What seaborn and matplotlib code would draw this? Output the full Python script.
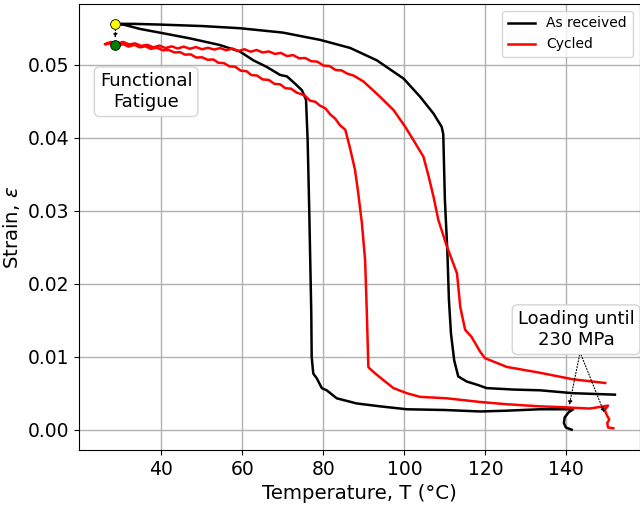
import numpy as np
import pandas as pd
import matplotlib
matplotlib.use("Agg")
import matplotlib.pyplot as plt
import seaborn as sns

# "As received": loading curl at ~141 C, cooling (lower branch -> rise), then heating (upper branch)
ar_T = [141.3, 139.9, 139.4, 139.6, 140.6, 141.7,
        133.5, 125.0, 118.7, 110.0, 100.6, 94.0, 88.2, 83.3, 80.8, 79.6, 78.4, 77.5, 77.4,
        77.1, 77.0, 76.5, 76.1, 75.7, 74.7, 73.0, 71.0, 69.3, 66.0, 62.7, 59.4, 54.4, 52.8,
        47.1, 40.5, 34.7, 30.6, 28.6,
        33.0, 39.6, 50.0, 59.4, 70.0, 79.2, 86.6, 93.2, 99.8, 103.9, 107.2, 109.2,
        109.6, 110.0, 110.6, 111.0, 111.5, 112.3, 113.3, 115.4, 118.3, 120.3, 127.0, 133.5,
        141.7, 147.0, 152.0]
ar_eps = [0.0000, 0.0003, 0.0009, 0.0017, 0.0024, 0.0028,
          0.0028, 0.0026, 0.0025, 0.0027, 0.0028, 0.0032, 0.0036, 0.0043, 0.0054, 0.0057,
          0.0070, 0.0077, 0.0082,
          0.0100, 0.0160, 0.0300, 0.0397, 0.0452, 0.0465, 0.0474, 0.0484, 0.0486, 0.0497,
          0.0506, 0.0518, 0.0527, 0.0529, 0.0536, 0.0543, 0.0549, 0.0555, 0.0556,
          0.0556, 0.0555, 0.0553, 0.0550, 0.0544, 0.0534, 0.0523, 0.0506, 0.0481, 0.0456,
          0.0433, 0.0415,
          0.0405, 0.0315, 0.0246, 0.0178, 0.0132, 0.0095, 0.0073, 0.0066, 0.0061, 0.0057,
          0.0055, 0.0054, 0.0050, 0.0049, 0.0048]

# "Cycled": loading curl at ~150 C, cooling, then heating (read with its small ripples)
cy_T = [151.6, 150.3, 150.1, 150.6, 150.0, 149.5, 150.3,
        145.8, 138.4, 133.5, 125.0, 118.7, 110.5, 103.9, 100.6, 97.3, 94.8, 92.8, 91.4,
        91.1, 90.7, 90.3, 89.5, 88.6, 87.8, 86.6, 85.4,
        84.1, 82.9, 81.7, 80.5, 79.2, 78.0, 76.7, 75.3, 73.4, 72.0, 70.6, 69.3, 67.9,
        66.5, 65.0, 63.6, 62.2, 61.0, 59.6, 58.2, 56.8, 55.4, 54.0, 52.8, 51.4, 50.0,
        48.6, 47.2, 45.8, 44.6, 43.2, 41.8, 40.4, 38.8, 37.4, 36.0, 34.7, 33.3, 31.9,
        30.5, 29.0, 27.5, 26.0,
        27.5, 29.0, 30.5, 32.0, 33.5, 35.0, 36.5, 38.0, 39.5, 41.0, 42.5, 44.0, 45.5,
        47.0, 48.5, 50.0, 51.5, 53.0, 54.5, 56.0, 57.5, 59.0, 60.5, 62.0, 63.5, 65.0,
        66.5, 68.0, 69.5, 71.0, 72.5, 74.0, 75.5, 77.0, 78.5, 80.0, 81.5, 83.0, 84.5,
        85.8, 87.5, 89.9,
        94.0, 97.3, 100.2, 102.2, 104.7, 105.9, 107.2, 108.4, 110.5, 113.0, 113.8, 115.0,
        116.6, 118.7, 119.9, 125.3, 133.5, 141.7, 149.6]
cy_eps = [0.0002, 0.0003, 0.0009, 0.0014, 0.0020, 0.0027, 0.0033,
          0.0029, 0.0031, 0.0032, 0.0035, 0.0038, 0.0043, 0.0045, 0.0050, 0.0057, 0.0068,
          0.0077, 0.0084,
          0.0086, 0.0164, 0.0232, 0.0283, 0.0324, 0.0356, 0.0385, 0.0411,
          0.04170, 0.04262, 0.04318, 0.04402, 0.04438, 0.04492, 0.04508, 0.04582, 0.04618,
          0.04672, 0.04678, 0.04732, 0.04738, 0.04792, 0.04798, 0.04852, 0.04858, 0.04912,
          0.04918, 0.04972, 0.04978, 0.05022, 0.05028, 0.05072, 0.05068, 0.05102, 0.05098,
          0.05142, 0.05138, 0.05172, 0.05168, 0.05202, 0.05198, 0.05232, 0.05218, 0.05252,
          0.05238, 0.05272, 0.05248, 0.05282, 0.05258, 0.05292, 0.05280,
          0.05312, 0.05288, 0.05312, 0.05278, 0.05292, 0.05258, 0.05272, 0.05238, 0.05262,
          0.05228, 0.05252, 0.05222, 0.05248, 0.05218, 0.05242, 0.05212, 0.05232, 0.05208,
          0.05228, 0.05198, 0.05222, 0.05188, 0.05212, 0.05178, 0.05202, 0.05168, 0.05182,
          0.05148, 0.05162, 0.05118, 0.05132, 0.05088, 0.05092, 0.05048, 0.05042, 0.04988,
          0.04982, 0.04928, 0.04922, 0.04880, 0.04850, 0.04770,
          0.0456, 0.0438, 0.0415, 0.0397, 0.0374, 0.0349, 0.0319, 0.0287, 0.0251, 0.0214,
          0.0168, 0.0137, 0.0127, 0.0107, 0.0098, 0.0086, 0.0078, 0.0069, 0.0064]

series_names = ["As received", "Cycled"]
series_colors = ["black", "red"]

fatigue_T = 28.6
fatigue_start = 0.0556
fatigue_end = 0.0527
loading_targets_T = [140.6, 149.6]
loading_targets_eps = [0.0030, 0.0020]

df = pd.concat([
    pd.DataFrame({"T": ar_T, "eps": ar_eps, "Sample": series_names[0]}),
    pd.DataFrame({"T": cy_T, "eps": cy_eps, "Sample": series_names[1]}),
], ignore_index=True)

fig = plt.figure(figsize=(6.4, 5.05), dpi=100)
ax = fig.add_axes([0.1239, 0.1089, 0.8755, 0.8832])

sns.lineplot(data=df, x="T", y="eps", hue="Sample", palette=series_colors,
             hue_order=series_names, sort=False, estimator=None, lw=1.8, ax=ax)

ax.set_xlim(19.7, 158.1)
ax.set_ylim(-0.00278, 0.05832)
ax.grid(True, color="#b0b0b0", lw=1.0)
ax.set_axisbelow(True)
ax.set_xticks([40, 60, 80, 100, 120, 140])
ax.tick_params(labelsize=13.5)
ax.set_xlabel("Temperature, T (°C)", fontsize=14.2)
ax.set_ylabel("Strain, $\\epsilon$", fontsize=14.2)

# Functional fatigue annotation
ax.annotate("", xy=(fatigue_T, fatigue_end + 0.0006), xytext=(fatigue_T, fatigue_start),
            arrowprops=dict(arrowstyle="-|>", ls=":", lw=0.8, color="black", mutation_scale=6))
ax.plot([fatigue_T], [fatigue_start], "o", mfc="yellow", mec="black", ms=7, mew=0.6, zorder=5)
ax.plot([fatigue_T], [fatigue_end], "o", mfc="green", mec="black", ms=7, mew=0.6, zorder=5)
ax.text(36.2, 0.0463, "Functional\nFatigue", ha="center", va="center", fontsize=13,
        bbox=dict(boxstyle="round", fc="white", ec="#d0d0d0", alpha=0.9))

# Loading annotation
for tx, ty in zip(loading_targets_T, loading_targets_eps):
    ax.annotate("", xy=(tx, ty), xytext=(143.4, 0.0106),
                arrowprops=dict(arrowstyle="-|>", ls=":", lw=0.8, color="black", mutation_scale=6))
ax.text(142.4, 0.0137, "Loading until\n230 MPa", ha="center", va="center", fontsize=13,
        bbox=dict(boxstyle="round", fc="white", ec="#d0d0d0", alpha=0.9))

leg = ax.legend(loc="upper right", fontsize=10)
fig.savefig("out.png", dpi=100)
